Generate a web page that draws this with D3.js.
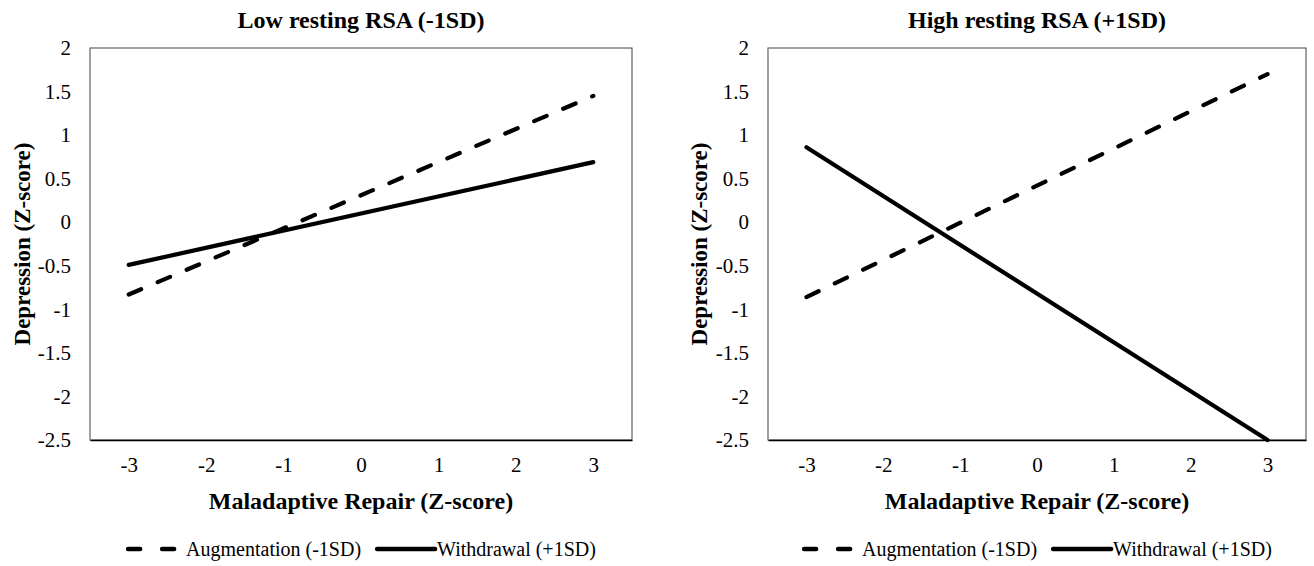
<!DOCTYPE html>
<html>
<head>
<meta charset="utf-8">
<script src="https://cdn.jsdelivr.net/npm/d3@7"></script>
<style>
  html, body { margin: 0; padding: 0; background: #fff; }
  svg { display: block; }
  svg text { font-family: "Times New Roman", Times, "Liberation Serif", serif !important; fill: #000; }
</style>
</head>
<body>
<svg id="chart" width="1314" height="566"></svg>
<script>
// ---- data ----
const xValues = [-3, 3];                       // Maladaptive Repair (Z-score) endpoints
const xTickLabels = [-3, -2, -1, 0, 1, 2, 3];
const yTickLabels = [2, 1.5, 1, 0.5, 0, -0.5, -1, -1.5, -2, -2.5];
const seriesNames = ["Augmentation (-1SD)", "Withdrawal (+1SD)"];
const panelTitles = ["Low resting RSA (-1SD)", "High resting RSA (+1SD)"];
const lowAugmentation = [-0.83, 1.45];
const lowWithdrawal = [-0.49, 0.69];
const highAugmentation = [-0.86, 1.70];
const highWithdrawal = [0.86, -2.50];
const xAxisTitle = "Maladaptive Repair (Z-score)";
const yAxisTitle = "Depression (Z-score)";

const svg = d3.select("#chart");

function drawPanel(cfg) {
  const { left, right, top, bottom, title, series } = cfg;
  const g = svg.append("g");

  const x = d3.scaleLinear().domain([-3.5, 3.5]).range([left, right]);
  const y = d3.scaleLinear().domain([-2.5, 2]).range([bottom, top]);

  // plot frame
  g.append("rect")
    .attr("x", left).attr("y", top)
    .attr("width", right - left).attr("height", bottom - top)
    .attr("fill", "none").attr("stroke", "#404040").attr("stroke-width", 1);

  // y axis
  const yAxis = d3.axisLeft(y).tickValues(yTickLabels).tickSize(0).tickPadding(19)
    .tickFormat(d => String(d));
  const yg = g.append("g").attr("transform", `translate(${left},0)`).call(yAxis);
  yg.attr("font-family", null);
  yg.select(".domain").attr("stroke", "#a0a0a0");
  yg.selectAll("text").style("font-size", "21px");

  // x axis
  const xAxis = d3.axisBottom(x).tickValues(xTickLabels).tickSize(0).tickPadding(17)
    .tickFormat(d => String(d));
  const xg = g.append("g").attr("transform", `translate(0,${bottom})`).call(xAxis);
  xg.attr("font-family", null);
  xg.select(".domain").attr("stroke", "#000").attr("stroke-width", 1.5);
  xg.selectAll("text").style("font-size", "21px");

  const cx = (left + right) / 2;
  // title
  g.append("text").attr("x", cx).attr("y", 28).attr("text-anchor", "middle")
    .style("font-size", "24px").style("font-weight", "bold").text(title);
  // x axis title
  g.append("text").attr("x", cx).attr("y", 509).attr("text-anchor", "middle")
    .style("font-size", "24px").style("font-weight", "bold").text(xAxisTitle);
  // y axis title
  g.append("text")
    .attr("transform", `translate(${cfg.yTitleX},${(top + bottom) / 2}) rotate(-90)`)
    .attr("text-anchor", "middle").attr("dy", "0.35em")
    .style("font-size", "23px").style("font-weight", "bold").text(yAxisTitle);

  // lines
  const line = d3.line().x((d, i) => x(xValues[i])).y(d => y(d));
  series.forEach((s, k) => {
    g.append("path").datum(s.values)
      .attr("d", line)
      .attr("fill", "none").attr("stroke", "#000")
      .attr("stroke-width", 4.2)
      .attr("stroke-linecap", "round")
      .attr("stroke-dasharray", k === 0 ? "13.5,18" : null);
  });

  // legend
  const lg = g.append("g");
  const ly = 549;
  let cursor = 0;
  seriesNames.forEach((name, k) => {
    const it = lg.append("g");
    const symW = k === 0 ? 50 : 60;
    const ln = it.append("line").attr("x1", 2).attr("x2", symW).attr("y1", 0).attr("y2", 0)
      .attr("stroke", "#000").attr("stroke-width", 4.5).attr("stroke-linecap", "round");
    if (k === 0) ln.attr("stroke-dasharray", "12,22");
    const tx = k === 0 ? symW + 10 : symW + 2;
    const t = it.append("text").attr("x", tx).attr("y", 7)
      .style("font-size", "20px").text(name);
    const w = tx + t.node().getComputedTextLength();
    it.attr("transform", `translate(${cursor},${ly})`);
    cursor += w + 14;
  });
  const total = cursor - 14;
  lg.attr("transform", `translate(${cx - total / 2},0)`);
}

drawPanel({
  left: 90, right: 632, top: 48, bottom: 440,
  title: panelTitles[0], yTitleX: 22,
  series: [{ values: lowAugmentation }, { values: lowWithdrawal }]
});
drawPanel({
  left: 768, right: 1306, top: 48, bottom: 440,
  title: panelTitles[1], yTitleX: 699,
  series: [{ values: highAugmentation }, { values: highWithdrawal }]
});
</script>
</body>
</html>
